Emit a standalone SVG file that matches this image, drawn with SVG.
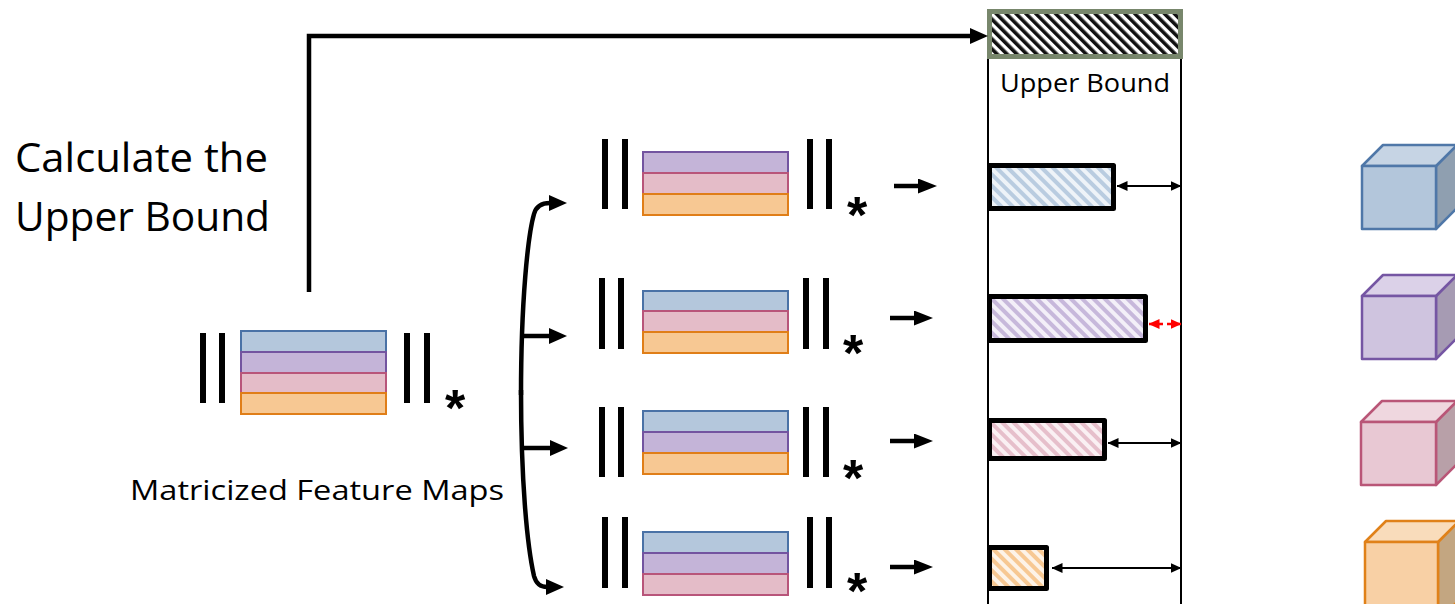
<svg xmlns="http://www.w3.org/2000/svg" width="1455" height="604" viewBox="0 0 1455 604">
<style>
.bar{fill:#000}
.b{fill:#b4c7dc;stroke:#4a72a6;stroke-width:2}
.p{fill:#c4b4d8;stroke:#7354a0;stroke-width:2}
.k{fill:#e4bcc8;stroke:#b8557a;stroke-width:2}
.o{fill:#f7c893;stroke:#e07e18;stroke-width:2}
.ast{font-family:"Liberation Sans",Arial,sans-serif;font-weight:bold;font-size:52px;text-anchor:middle;fill:#000}
.thick{fill:none;stroke:#000;stroke-width:4.5}
.thin{fill:none;stroke:#000;stroke-width:2}
.hb{stroke:#000;stroke-width:5;stroke-linejoin:round}
.lbl{font-family:"Open Sans","Liberation Sans",sans-serif;fill:#000}
</style>
<defs>
<marker id="ah" viewBox="0 0 18 16" refX="1" refY="8" markerWidth="18" markerHeight="16" markerUnits="userSpaceOnUse" orient="auto"><path d="M0,0 L18,8 L0,16 z" fill="#000"/></marker>
<marker id="ah2" viewBox="0 0 19 15" refX="1" refY="7.5" markerWidth="19" markerHeight="15" markerUnits="userSpaceOnUse" orient="auto"><path d="M0,0 L19,7.5 L0,15 z" fill="#000"/></marker>
<marker id="dbl" viewBox="0 0 11 10" refX="10.5" refY="5" markerWidth="11" markerHeight="10" markerUnits="userSpaceOnUse" orient="auto-start-reverse"><path d="M0,0 L11,5 L0,10 z" fill="#000"/></marker>
<marker id="dblr" viewBox="0 0 11 10" refX="10.5" refY="5" markerWidth="11" markerHeight="10" markerUnits="userSpaceOnUse" orient="auto-start-reverse"><path d="M0,0 L11,5 L0,10 z" fill="#f00"/></marker>
<pattern id="hUB" width="7" height="7" patternUnits="userSpaceOnUse" patternTransform="rotate(-45)"><rect width="7" height="7" fill="#fff"/><rect width="3.6" height="7" fill="#111"/></pattern>
<pattern id="hB" width="8" height="8" patternUnits="userSpaceOnUse" patternTransform="rotate(-45)"><rect width="8" height="8" fill="#eef3f8"/><rect width="4" height="8" fill="#b9cce0"/></pattern>
<pattern id="hP" width="8" height="8" patternUnits="userSpaceOnUse" patternTransform="rotate(-45)"><rect width="8" height="8" fill="#f3eff8"/><rect width="4" height="8" fill="#c7b8db"/></pattern>
<pattern id="hK" width="8" height="8" patternUnits="userSpaceOnUse" patternTransform="rotate(-45)"><rect width="8" height="8" fill="#faf0f3"/><rect width="4" height="8" fill="#e6bfcb"/></pattern>
<pattern id="hO" width="8" height="8" patternUnits="userSpaceOnUse" patternTransform="rotate(-45)"><rect width="8" height="8" fill="#fdf3e8"/><rect width="4" height="8" fill="#f7c893"/></pattern>
</defs>
<rect width="1455" height="604" fill="#fff"/>

<g id="title">
<text class="lbl" x="15" y="172" font-size="41" textLength="253" lengthAdjust="spacingAndGlyphs">Calculate the</text>
<text class="lbl" x="15" y="231" font-size="41" textLength="255" lengthAdjust="spacingAndGlyphs">Upper Bound</text>
</g>

<g id="upper-bound">
<line x1="988" y1="58" x2="988" y2="604" stroke="#000" stroke-width="2"/>
<line x1="1181" y1="28" x2="1181" y2="604" stroke="#000" stroke-width="2"/>
<rect x="989.5" y="11.5" width="191" height="45" fill="url(#hUB)" stroke="#78876c" stroke-width="5"/>
<text class="lbl" x="1085" y="92" font-size="25" text-anchor="middle" textLength="170" lengthAdjust="spacingAndGlyphs">Upper Bound</text>
</g>

<g id="stack-main">
<rect class="bar" x="200" y="333" width="6" height="70"/>
<rect class="bar" x="219" y="333" width="6" height="70"/>
<rect class="b" x="241" y="331" width="145" height="21"/>
<rect class="p" x="241" y="352" width="145" height="21"/>
<rect class="k" x="241" y="373" width="145" height="20"/>
<rect class="o" x="241" y="393" width="145" height="21"/>
<rect class="bar" x="404" y="333" width="6" height="70"/>
<rect class="bar" x="424" y="333" width="6" height="70"/>
<text class="ast" x="455" y="426">*</text>
<text class="lbl" x="130" y="500" font-size="28" textLength="374" lengthAdjust="spacingAndGlyphs">Matricized Feature Maps</text>
</g>

<g id="stack-1">
<rect class="bar" x="602" y="139" width="6" height="70"/>
<rect class="bar" x="622" y="139" width="6" height="70"/>
<rect class="p" x="643" y="152" width="145" height="21"/>
<rect class="k" x="643" y="173" width="145" height="21"/>
<rect class="o" x="643" y="194" width="145" height="21"/>
<rect class="bar" x="807" y="139" width="6" height="70"/>
<rect class="bar" x="826" y="139" width="6" height="70"/>
<text class="ast" x="857" y="233">*</text>
</g>

<g id="stack-2">
<rect class="bar" x="599" y="278" width="6" height="71"/>
<rect class="bar" x="618" y="278" width="6" height="71"/>
<rect class="b" x="643" y="291" width="145" height="20"/>
<rect class="k" x="643" y="311" width="145" height="21"/>
<rect class="o" x="643" y="332" width="145" height="21"/>
<rect class="bar" x="803" y="278" width="6" height="71"/>
<rect class="bar" x="823" y="278" width="6" height="71"/>
<text class="ast" x="853" y="371">*</text>
</g>

<g id="stack-3">
<rect class="bar" x="599" y="407" width="6" height="70"/>
<rect class="bar" x="618" y="407" width="6" height="70"/>
<rect class="b" x="643" y="411" width="145" height="21"/>
<rect class="p" x="643" y="432" width="145" height="21"/>
<rect class="o" x="643" y="453" width="145" height="21"/>
<rect class="bar" x="803" y="407" width="6" height="70"/>
<rect class="bar" x="823" y="407" width="6" height="70"/>
<text class="ast" x="853" y="496">*</text>
</g>

<g id="stack-4">
<rect class="bar" x="602" y="517" width="6" height="71"/>
<rect class="bar" x="622" y="517" width="6" height="71"/>
<rect class="b" x="643" y="532" width="145" height="21"/>
<rect class="p" x="643" y="553" width="145" height="21"/>
<rect class="k" x="643" y="574" width="145" height="21"/>
<rect class="bar" x="807" y="517" width="6" height="71"/>
<rect class="bar" x="826" y="517" width="6" height="71"/>
<text class="ast" x="857" y="609">*</text>
</g>

<g id="bar-1">
<rect class="hb" x="989.5" y="165.5" width="124" height="43" fill="url(#hB)"/>
</g>
<g id="bar-2">
<rect class="hb" x="989.5" y="296.5" width="156" height="44" fill="url(#hP)"/>
</g>
<g id="bar-3">
<rect class="hb" x="989.5" y="420.5" width="115" height="38" fill="url(#hK)"/>
</g>
<g id="bar-4">
<rect class="hb" x="989.5" y="547.5" width="57" height="41" fill="url(#hO)"/>
</g>

<g id="cube-blue" stroke="#4f77a8" stroke-width="2.5" stroke-linejoin="round">
<path d="M1436,166 L1457,145 L1457,208 L1436,229 z" fill="#8f9fb0"/>
<path d="M1362,166 L1383,145 L1457,145 L1436,166 z" fill="#c6d4e4"/>
<rect x="1362" y="166" width="74" height="63" fill="#b3c6db"/>
</g>
<g id="cube-purple" stroke="#7556a3" stroke-width="2.5" stroke-linejoin="round">
<path d="M1436,296 L1457,275 L1457,338 L1436,359 z" fill="#a69bb3"/>
<path d="M1362,296 L1383,275 L1457,275 L1436,296 z" fill="#dbd1e8"/>
<rect x="1362" y="296" width="74" height="63" fill="#cfc4df"/>
</g>
<g id="cube-pink" stroke="#b95677" stroke-width="2.5" stroke-linejoin="round">
<path d="M1436,422 L1457,401 L1457,464 L1436,485 z" fill="#b8a0a8"/>
<path d="M1361,422 L1382,401 L1457,401 L1436,422 z" fill="#efd7df"/>
<rect x="1361" y="422" width="75" height="63" fill="#e8c8d3"/>
</g>
<g id="cube-orange" stroke="#e08119" stroke-width="2.5" stroke-linejoin="round">
<path d="M1438,542 L1459,521 L1459,600 L1438,621 z" fill="#c3a681"/>
<path d="M1365,542 L1386,521 L1459,521 L1438,542 z" fill="#f9dcbb"/>
<rect x="1365" y="542" width="73" height="80" fill="#f8d0a5"/>
</g>

<g id="connectors">
<path class="thick" d="M309,292 V36 H971" marker-end="url(#ah)"/>
<path class="thick" d="M521,395 C521,300 528,235 534,214 Q537,203 550,203" marker-end="url(#ah)"/>
<path class="thick" d="M521,390 C521,480 527,545 534,576 Q537,587 547,587" marker-end="url(#ah)"/>
<path class="thick" d="M521,336 H550" marker-end="url(#ah)"/>
<path class="thick" d="M521,448 H551" marker-end="url(#ah)"/>
<path class="thick" d="M894,186 H919" marker-end="url(#ah2)"/>
<path class="thick" d="M890,318 H915" marker-end="url(#ah2)"/>
<path class="thick" d="M890,441 H915" marker-end="url(#ah2)"/>
<path class="thick" d="M890,567 H915" marker-end="url(#ah2)"/>
<path class="thin" d="M1117,186 H1181" marker-start="url(#dbl)" marker-end="url(#dbl)"/>
<path class="thin" d="M1108,443 H1181" marker-start="url(#dbl)" marker-end="url(#dbl)"/>
<path class="thin" d="M1052,568 H1181" marker-start="url(#dbl)" marker-end="url(#dbl)"/>
<path d="M1149,324 H1181" fill="none" stroke="#f00" stroke-width="2.5" stroke-dasharray="5 4" marker-start="url(#dblr)" marker-end="url(#dblr)"/>
</g>
</svg>
